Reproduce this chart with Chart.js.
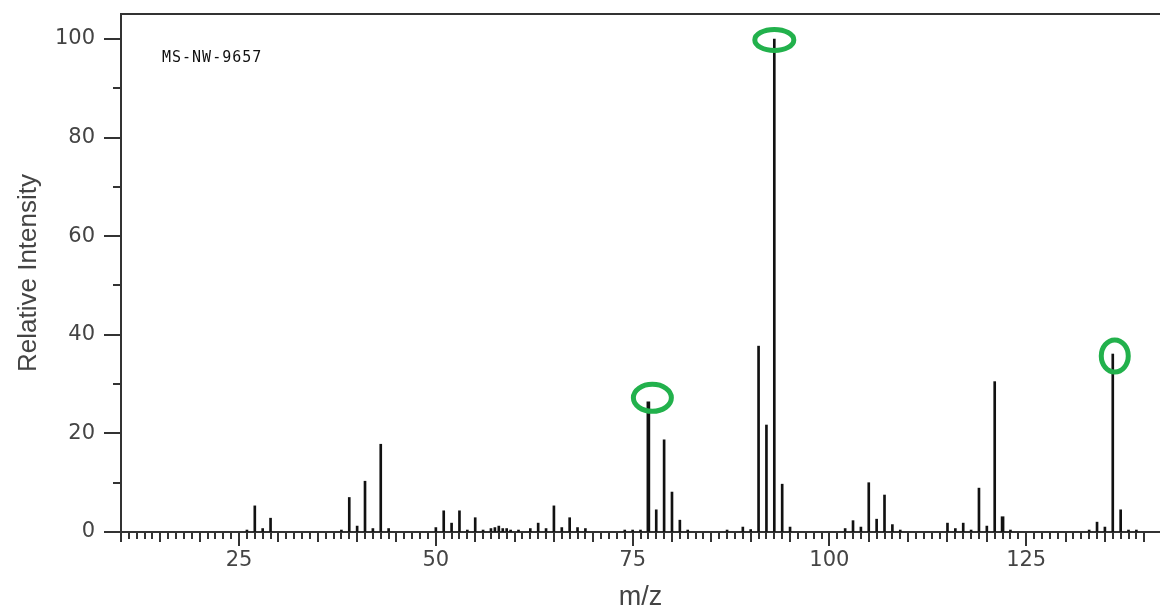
<!DOCTYPE html>
<html>
<head>
<meta charset="utf-8">
<script src="https://cdn.jsdelivr.net/npm/chart.js@4.4.1/dist/chart.umd.min.js"></script>
<style>
  html, body { margin: 0; padding: 0; background: #fff; }
  #wrap { width: 1160px; height: 611px; }
</style>
</head>
<body>
<div id="wrap"><canvas id="msChart"></canvas></div>
<script>
// m/z of each peak and its relative intensity
const mzValues = [26, 27, 28, 29, 38, 39, 40, 41, 42, 43, 44,
    50, 51, 52, 53, 54, 55, 56, 57, 57.5, 58, 58.5, 59, 59.5, 60.5,
    62, 63, 64, 65, 66, 67, 68, 69, 74, 75, 76,
    77, 78, 79, 80, 81, 82, 87, 89, 90, 91, 92, 93, 94, 95,
    102, 103, 104, 105, 106, 107, 108, 109,
    115, 116, 117, 118, 119, 120, 121, 122, 123,
    133, 134, 135, 136, 137, 138, 139]
const intensities = [0.4, 5.3, 0.7, 2.8, 0.4, 7.0, 1.2, 10.3, 0.7, 17.8, 0.7,
    0.9, 4.3, 1.8, 4.3, 0.4, 2.9, 0.4, 0.7, 0.9, 1.2, 0.7, 0.7, 0.4, 0.4,
    0.7, 1.8, 0.7, 5.3, 0.9, 2.9, 0.9, 0.7, 0.4, 0.4, 0.4,
    26.4, 4.5, 18.7, 8.1, 2.4, 0.4, 0.4, 1.0, 0.5, 37.7, 21.7, 100, 9.7, 1.0,
    0.7, 2.3, 1.0, 10.0, 2.6, 7.5, 1.5, 0.4,
    1.8, 0.7, 1.8, 0.4, 8.9, 1.2, 30.5, 3.1, 0.4,
    0.4, 2.0, 1.0, 36.1, 4.5, 0.4, 0.4]
// peaks printed with a heavier line
const thickPeaks = [77, 122]
// peaks circled in green
const circledPeaks = [77, 93, 136]

const xLabels = [25, 50, 75, 100, 125]
const yLabels = [0, 20, 40, 60, 80, 100]

const thinData = []
const thickData = []
mzValues.forEach((mz, i) => {
    const pt = { x: mz, y: intensities[i] }
    if (thickPeaks.includes(mz)) thickData.push(pt)
    else thinData.push(pt)
})

const axisColor = '#333'

// tick marks of different lengths, like the original plot
const tickMarks = {
    id: 'tickMarks',
    afterDraw(chart) {
        const ctx = chart.ctx
        const area = chart.chartArea
        const x = chart.scales.x
        const y = chart.scales.y
        ctx.save()
        ctx.strokeStyle = axisColor
        ctx.lineWidth = 2
        // top frame line
        ctx.beginPath()
        ctx.moveTo(area.left, area.top)
        ctx.lineTo(area.right, area.top)
        ctx.stroke()
        x.ticks.forEach(t => {
            const v = t.value
            if (v > 140) return
            const len = v % 25 === 0 ? 14 : (v % 5 === 0 ? 10 : 7)
            const px = Math.round(x.getPixelForValue(v))
            ctx.beginPath()
            ctx.moveTo(px, area.bottom)
            ctx.lineTo(px, area.bottom + len)
            ctx.stroke()
        })
        y.ticks.forEach(t => {
            const v = t.value
            const len = v % 20 === 0 ? 17 : 8
            const py = Math.round(y.getPixelForValue(v))
            ctx.beginPath()
            ctx.moveTo(area.left - len, py)
            ctx.lineTo(area.left, py)
            ctx.stroke()
        })
        // sample id
        ctx.fillStyle = '#111'
        ctx.font = '15px "DejaVu Sans Mono"'
        ctx.letterSpacing = '1px'
        ctx.textBaseline = 'alphabetic'
        ctx.fillText('MS-NW-9657', area.left + 41, area.top + 48)
        ctx.restore()
    }
}

// green rings around the marked peaks
const ringSize = { 77: [19, 13.5, 4, -4], 93: [19.5, 10.5, 0, 1], 136: [13.5, 16, 2, 2] }
const peakRings = {
    id: 'peakRings',
    afterDatasetsDraw(chart) {
        const ctx = chart.ctx
        ctx.save()
        ctx.strokeStyle = '#22B14C'
        ctx.lineWidth = 5
        circledPeaks.forEach(mz => {
            const i = mzValues.indexOf(mz)
            const px = chart.scales.x.getPixelForValue(mz)
            const py = chart.scales.y.getPixelForValue(intensities[i])
            const s = ringSize[mz]
            ctx.beginPath()
            ctx.ellipse(px + s[2], py + s[3], s[0], s[1], 0, 0, Math.PI * 2)
            ctx.stroke()
        })
        ctx.restore()
    }
}

const ctx = document.getElementById('msChart').getContext('2d')
const msChart = new Chart(ctx, {
    type: 'bar',
    data: {
        datasets: [
            {
                data: thinData,
                backgroundColor: '#111',
                barThickness: 2,
                grouped: false
            },
            {
                data: thickData,
                backgroundColor: '#111',
                barThickness: 3,
                grouped: false
            }
        ]
    },
    options: {
        responsive: true,
        maintainAspectRatio: false,
        animation: false,
        layout: { padding: { top: 14, right: 0, left: 0, bottom: 0 } },
        plugins: {
            legend: { display: false },
            tooltip: { enabled: false }
        },
        scales: {
            x: {
                type: 'linear',
                offset: false,
                min: 10,
                max: 142,
                afterFit: (scale) => {
                    scale.height = 79
                    scale.paddingLeft = 0
                    scale.paddingRight = 0
                },
                ticks: {
                    stepSize: 1,
                    autoSkip: false,
                    maxRotation: 0,
                    includeBounds: false,
                    padding: 2,
                    color: '#444',
                    font: { family: 'DejaVu Sans', size: 21 },
                    callback: (v) => xLabels.includes(v) ? String(v) : ''
                },
                grid: {
                    display: true,
                    offset: false,
                    drawOnChartArea: false,
                    drawTicks: true,
                    tickLength: 14,
                    tickColor: 'rgba(0,0,0,0)'
                },
                border: { display: true, color: axisColor, width: 2 },
                title: {
                    display: true,
                    text: 'm/z',
                    color: '#444',
                    font: { family: 'Liberation Sans', size: 27, lineHeight: 1.0 },
                    padding: { top: 0, bottom: 0 }
                }
            },
            y: {
                min: 0,
                max: 105.07,
                afterFit: (scale) => {
                    scale.width = 121
                    scale.paddingTop = 0
                    scale.paddingBottom = 0
                },
                ticks: {
                    stepSize: 10,
                    includeBounds: false,
                    padding: 9,
                    color: '#444',
                    font: { family: 'DejaVu Sans', size: 21 },
                    callback: (v) => yLabels.includes(v) ? String(v) : ''
                },
                grid: {
                    display: true,
                    drawOnChartArea: false,
                    drawTicks: true,
                    tickLength: 17,
                    tickColor: 'rgba(0,0,0,0)'
                },
                border: { display: true, color: axisColor, width: 2 },
                title: {
                    display: true,
                    text: 'Relative Intensity',
                    color: '#444',
                    font: { family: 'Liberation Sans', size: 26 },
                    padding: { top: 13, bottom: 0 }
                }
            }
        }
    },
    plugins: [tickMarks, peakRings]
});
</script>
</body>
</html>
